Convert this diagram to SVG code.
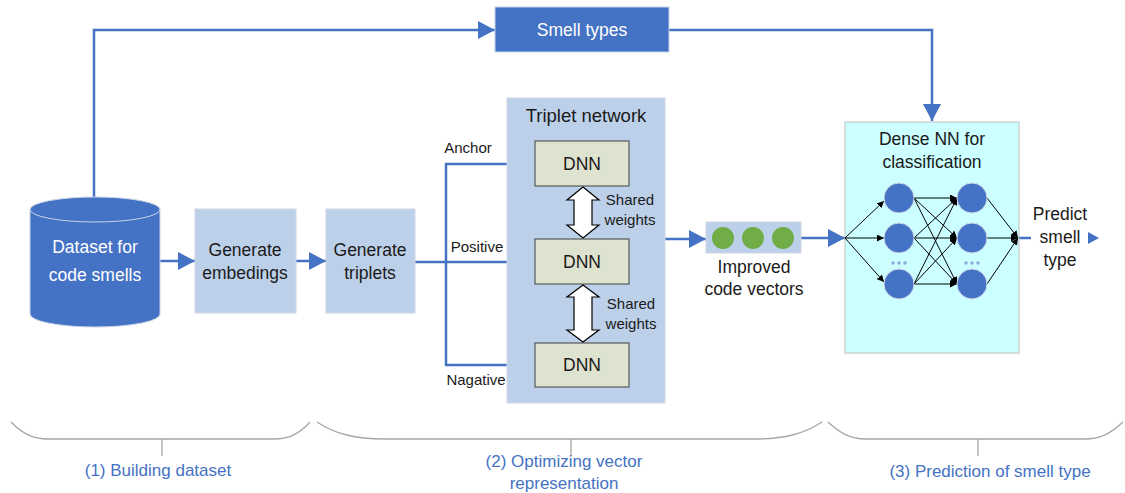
<svg xmlns="http://www.w3.org/2000/svg" width="1125" height="493" viewBox="0 0 1125 493">
<defs>
<style>
text{font-family:"Liberation Sans","Open Sans",sans-serif;}
.t{font-size:17.5px;fill:#1a1a1a;text-anchor:middle;}
.w{font-size:17.5px;fill:#ffffff;text-anchor:middle;}
.s{font-size:15px;fill:#1a1a1a;text-anchor:middle;}
.b{font-size:17px;fill:#4472C4;text-anchor:middle;}
.lb{fill:#BDD0E9;stroke:#D0D7E2;stroke-width:1;}
.dnn{fill:#DEE3D0;stroke:#404040;stroke-width:1;}
.con{fill:none;stroke:#4472C4;stroke-width:2.5;}
.nn{fill:none;stroke:#000;stroke-width:1;}
.neu{fill:#4472C4;stroke:#D0D8E8;stroke-width:1;}
.brace{fill:none;stroke:#A6A6A6;stroke-width:1.3;}
.dbl{fill:#ffffff;stroke:#000;stroke-width:1.2;}
</style>
<marker id="arr" markerUnits="userSpaceOnUse" markerWidth="17" markerHeight="18" refX="17" refY="9" orient="auto">
<path d="M0,0 L17,9 L0,18 z" fill="#4472C4"/>
</marker>
<marker id="sarr" markerUnits="userSpaceOnUse" markerWidth="7" markerHeight="7" refX="7" refY="3.5" orient="auto">
<path d="M0,0 L7,3.5 L0,7 z" fill="#000"/>
</marker>
</defs>

<g id="connectors">
<path class="con" d="M94,197 V30 H495" marker-end="url(#arr)"/>
<path class="con" d="M669,30 H932 V121" marker-end="url(#arr)"/>
<path class="con" d="M160,261 H195" marker-end="url(#arr)"/>
<path class="con" d="M296,261 H326" marker-end="url(#arr)"/>
<path class="con" d="M415,262 H535" marker-end="url(#arr)"/>
<path class="con" d="M446,365 V164"/>
<path class="con" d="M445,164 H535" marker-end="url(#arr)"/>
<path class="con" d="M445,365 H535" marker-end="url(#arr)"/>
<path class="con" d="M665,239 H706" marker-end="url(#arr)"/>
<path class="con" d="M801,238 H845" marker-end="url(#arr)"/>
<path class="con" d="M1019,238 H1031"/>
<path d="M1088,232 L1099,238 L1088,244 z" fill="#4472C4"/>
</g>

<g id="dataset">
<path d="M30,209.5 V314 A65,13 0 0 0 160,314 V209.5 A65,12.5 0 0 0 30,209.5 z" fill="#4472C4" stroke="#C9D3E6" stroke-width="1"/>
<path d="M30,209.5 A65,12.5 0 0 0 160,209.5" fill="none" stroke="#C9D3E6" stroke-width="1"/>
<text class="w" x="95" y="253">Dataset for</text>
<text class="w" x="95" y="281">code smells</text>
</g>

<g id="smell-types">
<rect x="495" y="7" width="174" height="45" fill="#4472C4" stroke="#C9D3E6" stroke-width="1"/>
<text class="w" x="582" y="36">Smell types</text>
</g>

<g id="gen-embed">
<rect class="lb" x="195" y="209" width="101" height="104"/>
<text class="t" x="245" y="256">Generate</text>
<text class="t" x="245" y="279">embedings</text>
</g>

<g id="gen-triplets">
<rect class="lb" x="326" y="209" width="89" height="104"/>
<text class="t" x="370" y="256">Generate</text>
<text class="t" x="370" y="279">triplets</text>
</g>

<g id="triplet-network">
<rect class="lb" x="507" y="98" width="158" height="305"/>
<text class="t" x="586" y="122" style="font-size:18.5px">Triplet network</text>
</g>

<g id="dnn1">
<rect class="dnn" x="535" y="141" width="94" height="45"/>
<text class="t" x="582" y="170">DNN</text>
</g>
<g id="dnn2">
<rect class="dnn" x="535" y="239" width="94" height="45"/>
<text class="t" x="582" y="268">DNN</text>
</g>
<g id="dnn3">
<rect class="dnn" x="535" y="343" width="94" height="44"/>
<text class="t" x="582" y="371">DNN</text>
</g>

<g id="shared1">
<path class="dbl" d="M583,187 L599,200 L592,200 L592,225 L599,225 L583,238 L567,225 L574,225 L574,200 L567,200 z"/>
<text class="s" x="630" y="205">Shared</text>
<text class="s" x="630" y="225">weights</text>
</g>
<g id="shared2">
<path class="dbl" d="M583,285 L599,297 L592,297 L592,330 L599,330 L583,342 L567,330 L574,330 L574,297 L567,297 z"/>
<text class="s" x="631" y="309">Shared</text>
<text class="s" x="631" y="329">weights</text>
</g>

<g id="branch-labels">
<text class="s" x="468" y="153">Anchor</text>
<text class="s" x="477" y="252">Positive</text>
<text class="s" x="476" y="385">Nagative</text>
</g>

<g id="code-vectors">
<rect class="lb" x="706" y="222" width="95" height="31"/>
<circle cx="723" cy="238" r="11" fill="#70AD47"/>
<circle cx="753" cy="238" r="11" fill="#70AD47"/>
<circle cx="783" cy="238" r="11" fill="#70AD47"/>
<text class="t" x="754" y="273">Improved</text>
<text class="t" x="754" y="295">code vectors</text>
</g>

<g id="dense-nn">
<rect x="845" y="122" width="174" height="231" fill="#CCFFFF" stroke="#BFBFBF" stroke-width="1"/>
<text class="t" x="932" y="145">Dense NN for</text>
<text class="t" x="932" y="168">classification</text>
<g>
<line class="nn" x1="845" y1="238" x2="884" y2="201" marker-end="url(#sarr)"/>
<line class="nn" x1="845" y1="238" x2="884" y2="238" marker-end="url(#sarr)"/>
<line class="nn" x1="845" y1="238" x2="884" y2="282" marker-end="url(#sarr)"/>
<line class="nn" x1="914" y1="198" x2="957" y2="198" marker-end="url(#sarr)"/>
<line class="nn" x1="914" y1="198" x2="957" y2="238" marker-end="url(#sarr)"/>
<line class="nn" x1="914" y1="198" x2="957" y2="284" marker-end="url(#sarr)"/>
<line class="nn" x1="914" y1="238" x2="957" y2="198" marker-end="url(#sarr)"/>
<line class="nn" x1="914" y1="238" x2="957" y2="238" marker-end="url(#sarr)"/>
<line class="nn" x1="914" y1="238" x2="957" y2="284" marker-end="url(#sarr)"/>
<line class="nn" x1="914" y1="284" x2="957" y2="198" marker-end="url(#sarr)"/>
<line class="nn" x1="914" y1="284" x2="957" y2="238" marker-end="url(#sarr)"/>
<line class="nn" x1="914" y1="284" x2="957" y2="284" marker-end="url(#sarr)"/>
<line class="nn" x1="987" y1="198" x2="1018" y2="238" marker-end="url(#sarr)"/>
<line class="nn" x1="987" y1="238" x2="1018" y2="238" marker-end="url(#sarr)"/>
<line class="nn" x1="987" y1="284" x2="1018" y2="238" marker-end="url(#sarr)"/>
</g>
<circle class="neu" cx="899" cy="198" r="15"/>
<circle class="neu" cx="899" cy="238" r="15"/>
<circle class="neu" cx="899" cy="284" r="15"/>
<circle class="neu" cx="972" cy="198" r="15"/>
<circle class="neu" cx="972" cy="238" r="15"/>
<circle class="neu" cx="972" cy="284" r="15"/>
<g fill="#8FAADC">
<circle cx="893" cy="263" r="1.8"/><circle cx="899" cy="263" r="1.8"/><circle cx="905" cy="263" r="1.8"/>
<circle cx="966" cy="263" r="1.8"/><circle cx="972" cy="263" r="1.8"/><circle cx="978" cy="263" r="1.8"/>
</g>
</g>

<g id="predict">
<text class="t" x="1060" y="220">Predict</text>
<text class="t" x="1060" y="243">smell</text>
<text class="t" x="1060" y="266">type</text>
</g>

<g id="phase1">
<path class="brace" d="M11,422 C22,433 32,439 48,439 H274 C290,439 300,433 310,422"/>
<path class="brace" d="M162,439 V456"/>
<text class="b" x="158" y="476">(1) Building dataset</text>
</g>
<g id="phase2">
<path class="brace" d="M317,422 C335,434 355,439 385,439 H754 C784,439 804,434 822,422"/>
<path class="brace" d="M571,439 V456"/>
<text class="b" x="564" y="467">(2) Optimizing vector</text>
<text class="b" x="564" y="489">representation</text>
</g>
<g id="phase3">
<path class="brace" d="M828,422 C840,433 850,439 866,439 H1085 C1101,439 1111,433 1123,422"/>
<path class="brace" d="M978,439 V456"/>
<text class="b" x="990" y="477">(3) Prediction of smell type</text>
</g>
</svg>
